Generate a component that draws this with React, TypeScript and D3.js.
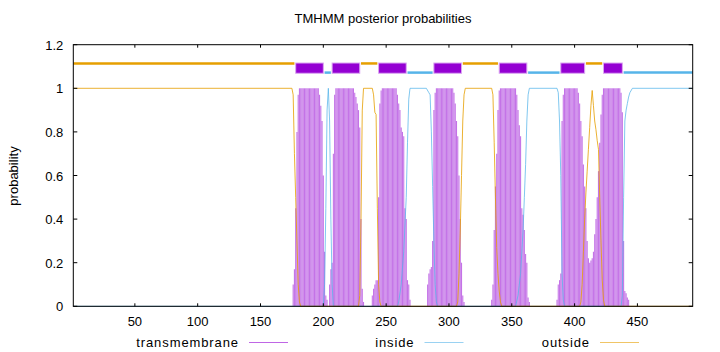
import React, { useEffect, useRef } from 'react';
import * as d3 from 'd3';

const residueCount = 494;
const xTicks = [50, 100, 150, 200, 250, 300, 350, 400, 450];
const yTicks = [0, 0.2, 0.4, 0.6, 0.8, 1, 1.2];

// transmembrane posterior per residue: [first residue, values...], zero elsewhere
const tmBlocks: Array<[number, number[]]> = [
  [176, [0.1, 0.17, 0.45, 0.8, 0.97, 1, 1, 1, 1, 1, 1, 1, 1, 1, 1, 1, 1, 1, 1, 1, 1, 0.97, 0.92, 0.85, 0.6, 0.25, 0.05, 0.03]],
  [205, [0.1, 0.17, 0.2, 0.7, 0.97, 1, 1, 1, 1, 1, 1, 1, 1, 1, 1, 1, 1, 1, 1, 1, 0.98, 0.96, 0.93, 0.9, 0.82, 0.4, 0.08, 0.02]],
  [239, [0.05, 0.08, 0.1, 0.12, 0.12, 0.5, 0.93, 0.99, 1, 1, 1, 1, 1, 1, 1, 1, 1, 1, 1, 1, 0.97, 0.93, 0.9, 0.82, 0.8, 0.78, 0.45, 0.4, 0.12, 0.1, 0.03]],
  [283, [0.1, 0.15, 0.17, 0.18, 0.3, 0.9, 0.98, 1, 1, 1, 1, 1, 1, 1, 1, 1, 1, 1, 1, 1, 1, 0.98, 0.93, 0.85, 0.78, 0.6, 0.4, 0.2, 0.05, 0.02]],
  [334, [0.03, 0.1, 0.35, 0.55, 0.7, 0.9, 0.99, 1, 1, 1, 1, 1, 1, 1, 1, 1, 1, 1, 1, 1, 0.97, 0.9, 0.83, 0.78, 0.45, 0.42, 0.35, 0.24, 0.2, 0.04, 0.02]],
  [386, [0.03, 0.1, 0.12, 0.15, 0.85, 0.97, 1, 1, 1, 1, 1, 1, 1, 1, 1, 1, 1, 0.98, 0.93, 0.85, 0.78, 0.65, 0.55, 0.45, 0.3, 0.22,
    0.2, 0.21, 0.22, 0.25, 0.33, 0.4, 0.5, 0.62, 0.75, 0.88, 0.97, 1, 1, 1, 1, 1, 1, 1, 1, 1, 1, 1, 1, 1, 1, 0.98, 0.89, 0.3, 0.07, 0.06, 0.04, 0.03]],
];

// inside posterior: [residue, probability]
const insidePoints: Array<[number, number]> = [
  [1, 0], [200, 0], [201, 0.1], [202, 0.45], [203, 0.9], [204, 1], [205, 0.85], [206, 0.4], [207, 0.1], [208, 0],
  [259, 0], [260, 0.02], [262, 0.1], [264, 0.25], [266, 0.5], [267, 0.75], [268, 0.95], [269, 1], [282, 1], [284, 0.98],
  [285, 0.97], [286, 0.8], [287, 0.55], [288, 0.3], [289, 0.1], [290, 0.02], [291, 0],
  [353, 0], [355, 0.05], [357, 0.15], [359, 0.35], [360, 0.5], [361, 0.65], [362, 0.85], [363, 0.97], [364, 1], [386, 1],
  [387, 0.98], [388, 0.85], [389, 0.6], [390, 0.15], [391, 0.03], [392, 0],
  [437, 0], [438, 0.05], [439, 0.5], [440, 0.85], [441, 0.9], [442, 0.93], [443, 0.96], [444, 0.98], [446, 1], [494, 1],
];

// outside posterior: [residue, probability]
const outsidePoints: Array<[number, number]> = [
  [1, 1], [175, 1], [176, 0.97], [177, 0.7], [178, 0.5], [179, 0.3], [180, 0.1], [181, 0.02], [182, 0],
  [228, 0], [229, 0.05], [230, 0.4], [231, 0.9], [232, 1], [239, 1], [240, 0.97], [241, 0.89], [242, 0.88], [243, 0.45],
  [244, 0.1], [245, 0.02], [246, 0],
  [306, 0], [307, 0.02], [308, 0.15], [309, 0.35], [310, 0.6], [311, 0.85], [312, 0.97], [313, 1], [334, 1],
  [335, 0.97], [336, 0.75], [337, 0.5], [338, 0.27], [339, 0.15], [340, 0.07], [341, 0.02], [342, 0],
  [404, 0], [405, 0.02], [406, 0.1], [407, 0.25], [408, 0.4], [409, 0.52], [410, 0.62], [411, 0.72], [412, 0.82],
  [413, 0.92], [414, 0.99], [415, 0.92], [416, 0.85], [417, 0.81], [418, 0.76], [419, 0.72], [420, 0.5], [421, 0.3],
  [422, 0.12], [423, 0.03], [424, 0], [494, 0],
];

// predicted topology: [kind, from, to]
const topology: Array<[string, number, number]> = [
  ['outside', 1, 177], ['TMhelix', 178, 200], ['inside', 201, 206], ['TMhelix', 207, 229],
  ['outside', 230, 243], ['TMhelix', 244, 266], ['inside', 267, 287], ['TMhelix', 288, 310],
  ['outside', 311, 339], ['TMhelix', 340, 362], ['inside', 363, 388], ['TMhelix', 389, 408],
  ['outside', 409, 422], ['TMhelix', 423, 438], ['inside', 439, 494],
];

const seriesNames = ['transmembrane', 'inside', 'outside'];
const seriesColors = ['#9400D3', '#56B4E9', '#E69F00'];

const App: React.FC = () => {
  const svgRef = useRef<SVGSVGElement>(null);

  useEffect(() => {
    if (!svgRef.current) return;
    const svg = d3.select(svgRef.current);
    svg.selectAll('*').remove();

    const width = 720;
    const height = 352;
    const font = '"Liberation Sans", Arial, sans-serif';

    const xScale = d3.scaleLinear().domain([1, residueCount]).range([73.3, 692.7]);
    const yScale = d3.scaleLinear().domain([0, 1.2]).range([306.3, 44.7]);

    svg.append('rect').attr('width', width).attr('height', height).attr('fill', '#fff');

    // transmembrane impulses
    const impulses = svg.append('g');
    tmBlocks.forEach(([start, values]) => {
      values.forEach((v, i) => {
        impulses.append('line')
          .attr('x1', xScale(start + i))
          .attr('x2', xScale(start + i))
          .attr('y1', yScale(0))
          .attr('y2', yScale(v))
          .attr('stroke', seriesColors[0])
          .attr('stroke-opacity', 0.55)
          .attr('stroke-width', 1.1);
      });
    });

    const line = d3.line<[number, number]>()
      .x(d => xScale(d[0]))
      .y(d => yScale(d[1]));

    svg.append('path')
      .attr('d', line(insidePoints))
      .attr('fill', 'none')
      .attr('stroke', seriesColors[1])
      .attr('stroke-opacity', 0.75)
      .attr('stroke-width', 1);

    svg.append('path')
      .attr('d', line(outsidePoints))
      .attr('fill', 'none')
      .attr('stroke', seriesColors[2])
      .attr('stroke-opacity', 0.8)
      .attr('stroke-width', 1);

    // topology bar
    const topo = svg.append('g');
    topology.forEach(([kind, from, to]) => {
      if (kind === 'TMhelix') {
        topo.append('rect')
          .attr('x', xScale(from))
          .attr('y', yScale(1.116))
          .attr('width', xScale(to) - xScale(from))
          .attr('height', yScale(1.069) - yScale(1.116))
          .attr('fill', seriesColors[0])
          .attr('stroke', '#dba6f1')
          .attr('stroke-width', 1);
      } else {
        const level = kind === 'outside' ? 1.114 : 1.072;
        topo.append('line')
          .attr('x1', xScale(from))
          .attr('x2', xScale(to))
          .attr('y1', yScale(level))
          .attr('y2', yScale(level))
          .attr('stroke', kind === 'outside' ? seriesColors[2] : seriesColors[1])
          .attr('stroke-width', 2.5);
      }
    });

    // border and ticks
    const [x0, x1] = xScale.range();
    const [y0, y1] = yScale.range();
    svg.append('rect')
      .attr('x', x0).attr('y', y1)
      .attr('width', x1 - x0).attr('height', y0 - y1)
      .attr('fill', 'none').attr('stroke', '#000').attr('stroke-width', 1);

    xTicks.forEach(t => {
      const px = xScale(t);
      svg.append('line').attr('x1', px).attr('x2', px).attr('y1', y0).attr('y2', y0 - 3).attr('stroke', '#000');
      svg.append('line').attr('x1', px).attr('x2', px).attr('y1', y1).attr('y2', y1 + 3).attr('stroke', '#000');
      svg.append('text')
        .attr('x', px).attr('y', y0 + 20)
        .attr('text-anchor', 'middle')
        .attr('font-family', font).style('font-size', '13px')
        .text(t);
    });

    yTicks.forEach(t => {
      const py = yScale(t);
      svg.append('line').attr('x1', x0).attr('x2', x0 + 4).attr('y1', py).attr('y2', py).attr('stroke', '#000');
      svg.append('line').attr('x1', x1).attr('x2', x1 - 4).attr('y1', py).attr('y2', py).attr('stroke', '#000');
      svg.append('text')
        .attr('x', x0 - 10).attr('y', py + 5)
        .attr('text-anchor', 'end')
        .attr('font-family', font).style('font-size', '13px')
        .text(t === 0 ? '0' : String(t));
    });

    svg.append('text')
      .attr('transform', 'rotate(-90)')
      .attr('x', -176).attr('y', 18)
      .attr('text-anchor', 'middle')
      .attr('font-family', font).style('font-size', '13px')
      .text('probability');

    svg.append('text')
      .attr('x', (x0 + x1) / 2).attr('y', 23)
      .attr('text-anchor', 'middle')
      .attr('font-family', font).style('font-size', '13px')
      .text('TMHMM posterior probabilities');

    // legend
    seriesNames.forEach((name, i) => {
      const right = 239 + i * 175.5;
      svg.append('text')
        .attr('x', right).attr('y', 347)
        .attr('text-anchor', 'end')
        .attr('font-family', font).style('font-size', '13px')
        .style('letter-spacing', '0.9px')
        .text(name);
      svg.append('line')
        .attr('x1', right + 10).attr('x2', right + 49)
        .attr('y1', 342.5).attr('y2', 342.5)
        .attr('stroke', seriesColors[i])
        .attr('stroke-opacity', 0.6)
        .attr('stroke-width', 1);
    });
  }, []);

  return (
    <svg
      ref={svgRef}
      width={720}
      height={352}
      style={{ position: 'absolute', left: 0, top: 0, display: 'block' }}
    />
  );
};

export default App;
